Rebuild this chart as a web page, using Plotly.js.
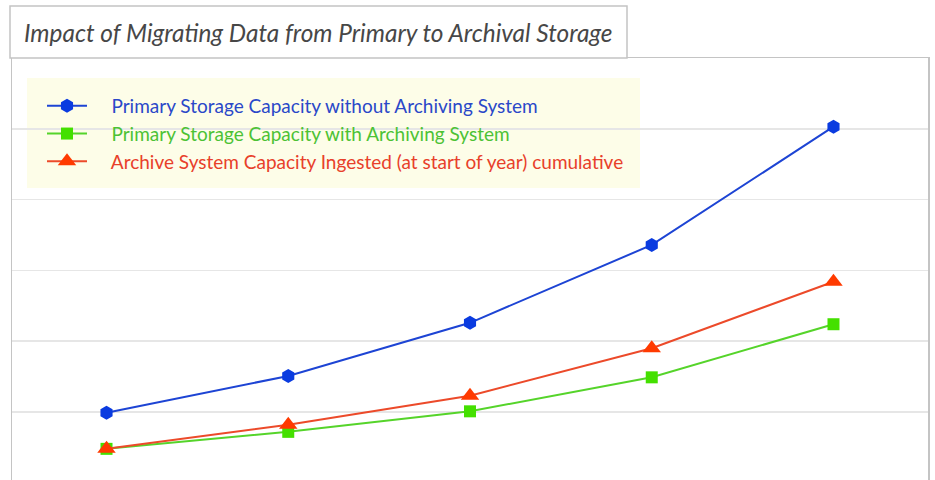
<!DOCTYPE html>
<html>
<head>
<meta charset="utf-8">
<script src="https://cdn.plot.ly/plotly-3.0.1.min.js"></script>
<style>html,body{margin:0;padding:0;background:#fff;}#chart{width:935px;height:480px;}</style>
</head>
<body>
<div id="chart"></div>
<script>
var years = [1, 2, 3, 4, 5];
var seriesNames = [
  "Primary Storage Capacity without Archiving System",
  "Primary Storage Capacity with Archiving System",
  "Archive System Capacity Ingested (at start of year) cumulative"
];
var withoutArchiving = [0.99, 1.51, 2.26, 3.36, 5.03];
var withArchiving = [0.48, 0.72, 1.01, 1.49, 2.24];
var archiveIngested = [0.48, 0.82, 1.23, 1.90, 2.84];
var chartTitle = "Impact of Migrating Data from Primary to Archival Storage";

var FONT = "Lato, 'Open Sans', sans-serif";
var textColors = ["#2a48c8", "#4cc234", "#e8402a"];
function legendLabel(i) {
  return '<span style="color:' + textColors[i] + '">&nbsp;&nbsp;&nbsp;&nbsp;' + seriesNames[i] + '</span>';
}

var traces = [
  {x: years, y: withoutArchiving, name: legendLabel(0), type: "scatter", mode: "lines+markers",
   line: {color: "#1d44d4", width: 2}, marker: {symbol: "hexagon", size: 14, color: "#0a3be0"}},
  {x: years, y: withArchiving, name: legendLabel(1), type: "scatter", mode: "lines+markers",
   line: {color: "#55d42a", width: 2}, marker: {symbol: "square", size: 12, color: "#44e000"}},
  {x: years, y: archiveIngested, name: legendLabel(2), type: "scatter", mode: "lines+markers",
   line: {color: "#ec4a2a", width: 2}, marker: {symbol: "triangle-up", size: 16, color: "#ff3a00"}}
];

var layout = {
  width: 935, height: 480,
  margin: {l: 12, r: 7, t: 58, b: 0, pad: 0},
  paper_bgcolor: "#ffffff", plot_bgcolor: "#ffffff",
  font: {family: FONT},
  title: {text: chartTitle, x: 24/935, xanchor: "left", xref: "container", y: 1 - 33/480, yanchor: "middle", yref: "container",
          font: {family: FONT, size: 24.4, color: "#474747", style: "italic"}},
  xaxis: {range: [0.48, 5.52], showgrid: false, zeroline: false, showticklabels: false, ticks: "",
          showline: true, side: "top", linecolor: "#c4c4c4", linewidth: 1.5},
  yaxis: {range: [0.04, 6.0], tick0: 0, dtick: 1, showgrid: true, gridcolor: "#e6e6e6", gridwidth: 1.5,
          zeroline: false, showticklabels: false, ticks: "", showline: true, mirror: true,
          linecolor: "#c4c4c4", linewidth: 1.5},
  showlegend: true,
  legend: {x: 30/916, y: 1 - 29/422, xanchor: "left", yanchor: "top", bgcolor: "rgba(0,0,0,0)",
           borderwidth: 0, font: {family: FONT, size: 19}, itemwidth: 40, tracegroupgap: 0},
  shapes: [
    {type: "rect", xref: "paper", yref: "paper", x0: 15/916, x1: 628/916, y0: 1 - 130/422, y1: 1 - 20/422,
     fillcolor: "#fdfde8", line: {width: 0}, layer: "below"},
    {type: "rect", xref: "paper", yref: "paper", x0: -2/916, x1: 615/916, y0: 1, y1: 1 + 52/422,
     fillcolor: "#ffffff", line: {color: "#c4c4c4", width: 1.5}, layer: "above"}
  ]
};

Plotly.newPlot("chart", traces, layout, {displayModeBar: false, staticPlot: true});
</script>
</body>
</html>
